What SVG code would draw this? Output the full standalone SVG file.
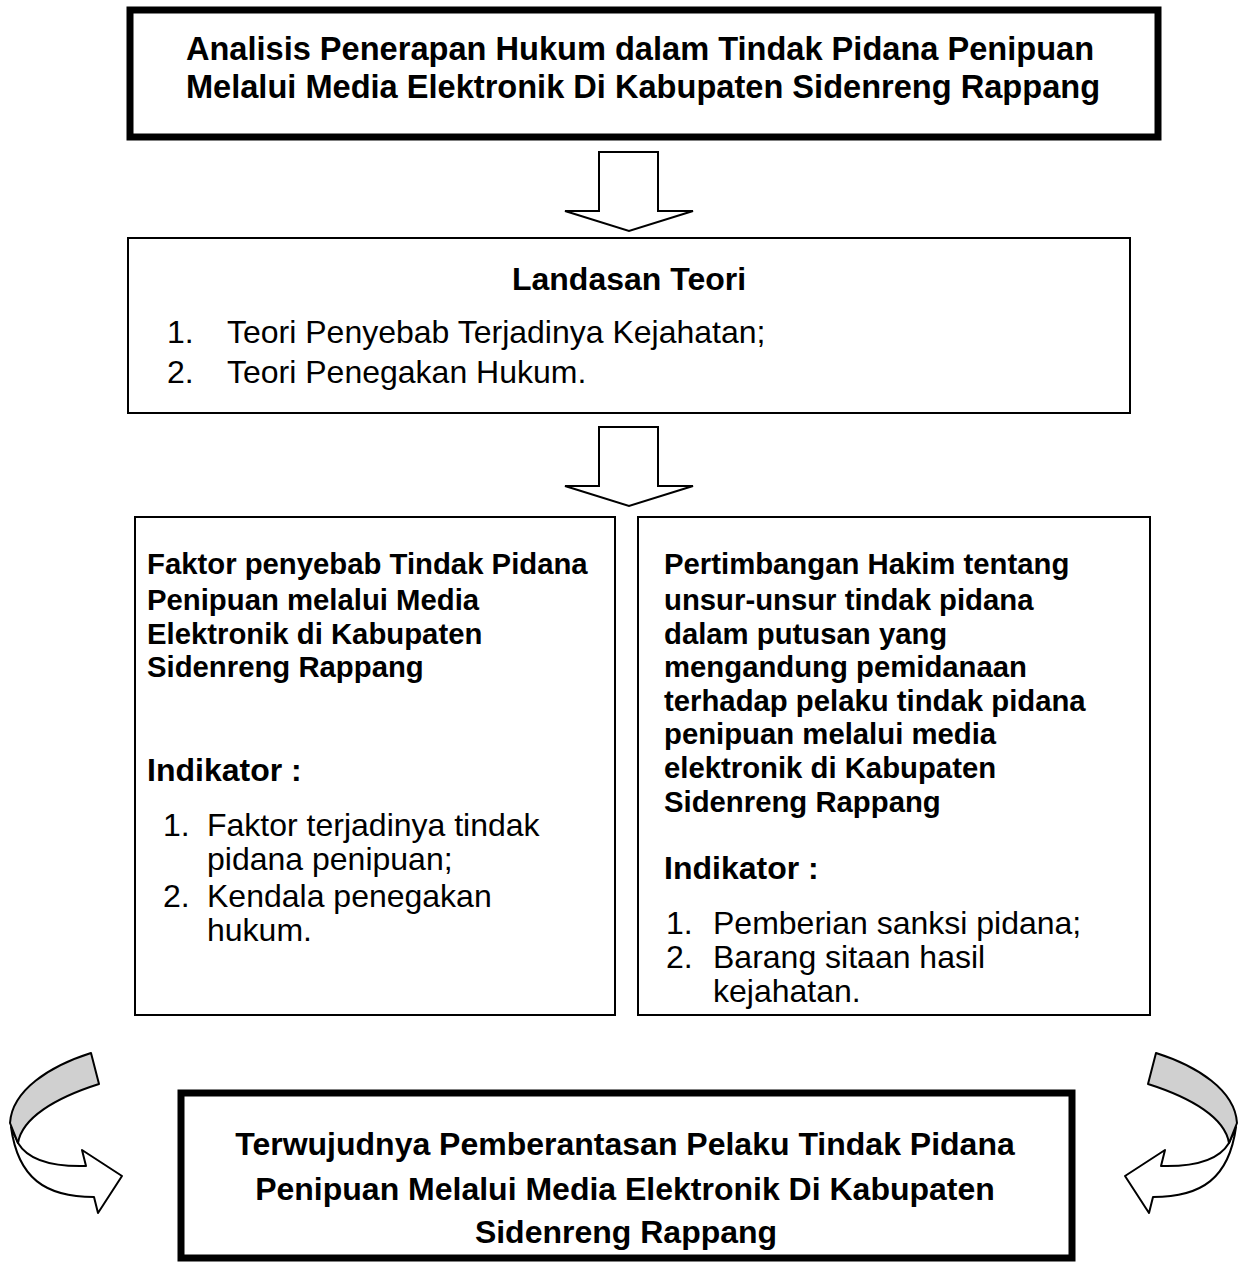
<svg xmlns="http://www.w3.org/2000/svg" width="1246" height="1262" viewBox="0 0 1246 1262">
<style>
.thick{fill:#fff;stroke:#000;stroke-width:7}
.thin{fill:#fff;stroke:#000;stroke-width:2}
.arr{fill:#fff;stroke:#000;stroke-width:2;stroke-linejoin:miter}
.gray{fill:#d0d0d0;stroke:#000;stroke-width:2;stroke-linejoin:round}
.curv{fill:#fff;stroke:#000;stroke-width:2;stroke-linejoin:round}
text{font-family:"Liberation Sans",Arial,sans-serif;fill:#000}
.b32{font-size:32px;font-weight:bold}
.bt{font-size:32.6px;font-weight:bold}
.b29{font-size:29.3px;font-weight:bold}
.r32{font-size:32px}
.mid{text-anchor:middle}
</style>
<rect width="1246" height="1262" fill="#fff"/>
<g id="node-title">
<rect class="thick" x="130" y="10" width="1028" height="127"/>
<text class="bt mid" x="640" y="60">Analisis Penerapan Hukum dalam Tindak Pidana Penipuan</text>
<text class="bt mid" x="643" y="98">Melalui Media Elektronik Di Kabupaten Sidenreng Rappang</text>
</g>
<g id="node-landasan">
<rect class="thin" x="128" y="238" width="1002" height="175"/>
<text class="b32 mid" x="629" y="290">Landasan Teori</text>
<text class="r32" x="167" y="343">1.</text>
<text class="r32" x="227" y="343">Teori Penyebab Terjadinya Kejahatan;</text>
<text class="r32" x="167" y="383">2.</text>
<text class="r32" x="227" y="383">Teori Penegakan Hukum.</text>
</g>
<g id="node-faktor">
<rect class="thin" x="135" y="517" width="480" height="498"/>
<text class="b29" x="147" y="574">Faktor penyebab Tindak Pidana</text>
<text class="b29" x="147" y="610">Penipuan melalui Media</text>
<text class="b29" x="147" y="644">Elektronik di Kabupaten</text>
<text class="b29" x="147" y="677">Sidenreng Rappang</text>
<text class="b32" x="147" y="781">Indikator :</text>
<text class="r32" x="163" y="836">1.</text>
<text class="r32" x="207" y="836">Faktor terjadinya tindak</text>
<text class="r32" x="207" y="870">pidana penipuan;</text>
<text class="r32" x="163" y="907">2.</text>
<text class="r32" x="207" y="907">Kendala penegakan</text>
<text class="r32" x="207" y="941">hukum.</text>
</g>
<g id="node-pertimbangan">
<rect class="thin" x="638" y="517" width="512" height="498"/>
<text class="b29" x="664" y="574">Pertimbangan Hakim tentang</text>
<text class="b29" x="664" y="610">unsur-unsur tindak pidana</text>
<text class="b29" x="664" y="644">dalam putusan yang</text>
<text class="b29" x="664" y="677">mengandung pemidanaan</text>
<text class="b29" x="664" y="711">terhadap pelaku tindak pidana</text>
<text class="b29" x="664" y="744">penipuan melalui media</text>
<text class="b29" x="664" y="778">elektronik di Kabupaten</text>
<text class="b29" x="664" y="812">Sidenreng Rappang</text>
<text class="b32" x="664" y="879">Indikator :</text>
<text class="r32" x="666" y="934">1.</text>
<text class="r32" x="713" y="934">Pemberian sanksi pidana;</text>
<text class="r32" x="666" y="968">2.</text>
<text class="r32" x="713" y="968">Barang sitaan hasil</text>
<text class="r32" x="713" y="1002">kejahatan.</text>
</g>
<g id="node-hasil">
<rect class="thick" x="181" y="1093" width="891" height="165"/>
<text class="b32 mid" x="625" y="1155">Terwujudnya Pemberantasan Pelaku Tindak Pidana</text>
<text class="b32 mid" x="625" y="1200">Penipuan Melalui Media Elektronik Di Kabupaten</text>
<text class="b32 mid" x="626" y="1243">Sidenreng Rappang</text>
</g>
<g id="connectors">
<path class="arr" d="M599,152 H658 V211 H693 L629,231 L565,211 H599 Z"/>
<path class="arr" d="M599,427 H658 V486 H693 L629,506 L565,486 H599 Z"/>
<g id="curve-left">
<path class="curv" d="M11,1127 L18,1143 C28,1160 50,1167 86,1166 L82,1150 L122,1176 L98,1213 L94,1197 C45,1197 18,1178 11,1127 Z"/>
<path class="gray" d="M91,1053 C50,1066 12,1090 10,1123 L18,1143 C22,1118 55,1098 99,1084 Z"/>
</g>
<g id="curve-right" transform="translate(1247,0) scale(-1,1)">
<path class="curv" d="M11,1127 L18,1143 C28,1160 50,1167 86,1166 L82,1150 L122,1176 L98,1213 L94,1197 C45,1197 18,1178 11,1127 Z"/>
<path class="gray" d="M91,1053 C50,1066 12,1090 10,1123 L18,1143 C22,1118 55,1098 99,1084 Z"/>
</g>
</g>
</svg>
